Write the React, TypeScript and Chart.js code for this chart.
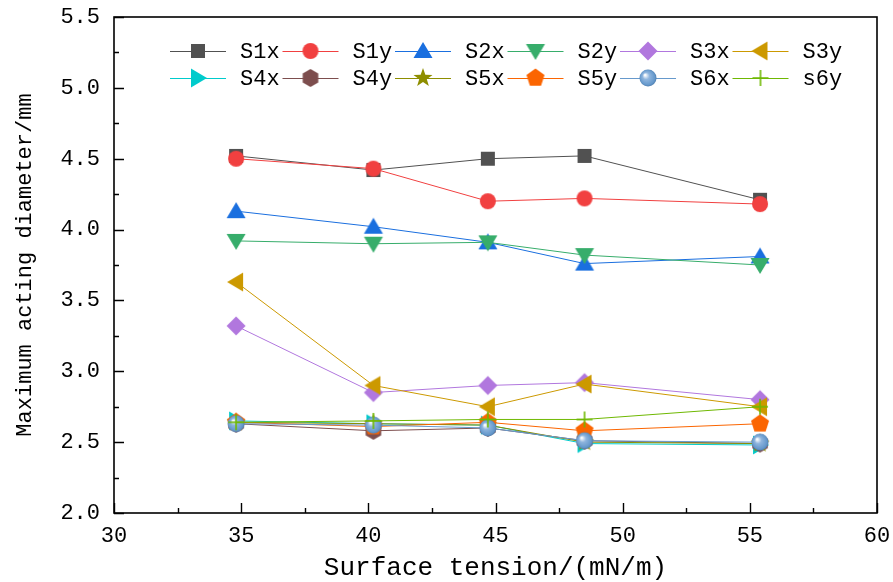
import React, { useEffect, useRef } from "react";
import { Chart, registerables } from "chart.js";

Chart.register(...registerables);

// ---------- data ----------
const surfaceTension = [34.8, 40.2, 44.7, 48.5, 55.4];
const seriesNames = ["S1x", "S1y", "S2x", "S2y", "S3x", "S3y", "S4x", "S4y", "S5x", "S5y", "S6x", "s6y"];
const S1x = [4.52, 4.42, 4.5, 4.52, 4.21];
const S1y = [4.5, 4.43, 4.2, 4.22, 4.18];
const S2x = [4.13, 4.02, 3.91, 3.76, 3.81];
const S2y = [3.92, 3.9, 3.91, 3.82, 3.75];
const S3x = [3.32, 2.85, 2.9, 2.92, 2.8];
const S3y = [3.63, 2.9, 2.75, 2.91, 2.75];
const S4x = [2.65, 2.63, 2.62, 2.49, 2.48];
const S4y = [2.63, 2.58, 2.6, 2.51, 2.49];
const S5x = [2.64, 2.63, 2.62, 2.5, 2.49];
const S5y = [2.64, 2.61, 2.64, 2.58, 2.63];
const S6x = [2.63, 2.62, 2.6, 2.51, 2.5];
const s6y = [2.64, 2.65, 2.66, 2.66, 2.75];
const seriesValues = [S1x, S1y, S2x, S2y, S3x, S3y, S4x, S4y, S5x, S5y, S6x, s6y];
const seriesColors = [
  "#515151", "#F14040", "#1A6FDF", "#37AD6B", "#B177DE", "#CC9900",
  "#00CBCC", "#7D4E4E", "#8E8E00", "#FB6501", "#6699CC", "#6FB802",
];
const seriesShapes = [
  "square", "circle", "triUp", "triDown", "diamond", "triLeft",
  "triRight", "hexagon", "star", "pentagon", "sphere", "plus",
];
const xTitle = "Surface tension/(mN/m)";
const yTitle = "Maximum acting diameter/mm";
const X_MIN = 30, X_MAX = 60, X_STEP = 5;
const Y_MIN = 2, Y_MAX = 5.5, Y_STEP = 0.5;

const FONT = "'Liberation Mono', 'DejaVu Sans Mono', monospace";

function makeMarker(shape: string, color: string): HTMLCanvasElement {
  const S = 22;
  const c = document.createElement("canvas");
  c.width = S;
  c.height = S;
  const ctx = c.getContext("2d")!;
  const cx = S / 2, cy = S / 2;
  ctx.fillStyle = color;
  ctx.strokeStyle = color;
  const poly = (pts: number[][]) => {
    ctx.beginPath();
    pts.forEach(([px, py], i) => (i ? ctx.lineTo(cx + px, cy + py) : ctx.moveTo(cx + px, cy + py)));
    ctx.closePath();
    ctx.fill();
  };
  const regular = (n: number, r: number, start: number) => {
    const pts: number[][] = [];
    for (let k = 0; k < n; k++) {
      const a = start + (k * 2 * Math.PI) / n;
      pts.push([r * Math.cos(a), r * Math.sin(a)]);
    }
    poly(pts);
  };
  switch (shape) {
    case "square":
      ctx.fillRect(cx - 7, cy - 7, 14, 14);
      break;
    case "circle":
      ctx.beginPath();
      ctx.arc(cx, cy, 8, 0, Math.PI * 2);
      ctx.fill();
      break;
    case "triUp":
      poly([[0, -9], [9.5, 7], [-9.5, 7]]);
      break;
    case "triDown":
      poly([[0, 9], [9.5, -7], [-9.5, -7]]);
      break;
    case "triLeft":
      poly([[-9, 0], [7, -9.5], [7, 9.5]]);
      break;
    case "triRight":
      poly([[9, 0], [-7, -9.5], [-7, 9.5]]);
      break;
    case "diamond":
      poly([[0, -9.5], [9.5, 0], [0, 9.5], [-9.5, 0]]);
      break;
    case "hexagon":
      regular(6, 9, -Math.PI / 2);
      break;
    case "pentagon":
      regular(5, 9.5, -Math.PI / 2);
      break;
    case "star": {
      const pts: number[][] = [];
      for (let k = 0; k < 10; k++) {
        const r = k % 2 === 0 ? 10 : 4;
        const a = -Math.PI / 2 + (k * Math.PI) / 5;
        pts.push([r * Math.cos(a), r * Math.sin(a)]);
      }
      poly(pts);
      break;
    }
    case "sphere": {
      const g = ctx.createRadialGradient(cx - 3, cy - 3, 0.5, cx, cy, 9);
      g.addColorStop(0, "#ffffff");
      g.addColorStop(0.35, "#8fb5de");
      g.addColorStop(0.8, color);
      g.addColorStop(1, "#4a78a8");
      ctx.fillStyle = g;
      ctx.beginPath();
      ctx.arc(cx, cy, 8.5, 0, Math.PI * 2);
      ctx.fill();
      break;
    }
    case "plus":
      ctx.lineWidth = 1.6;
      ctx.beginPath();
      ctx.moveTo(cx - 8, cy);
      ctx.lineTo(cx + 8, cy);
      ctx.moveTo(cx, cy - 8);
      ctx.lineTo(cx, cy + 8);
      ctx.stroke();
      break;
  }
  return c;
}

const framePlugin = {
  id: "frameTicks",
  afterDraw(chart: any) {
    const { ctx, chartArea } = chart;
    const { left, right, top, bottom } = chartArea;
    const xs = chart.scales.x;
    const ys = chart.scales.y;
    ctx.save();
    ctx.strokeStyle = "#000";
    ctx.lineWidth = 1.6;
    ctx.strokeRect(left, top, right - left, bottom - top);
    ctx.lineWidth = 1.4;
    ctx.beginPath();
    for (let v = X_MIN; v <= X_MAX + 1e-9; v += X_STEP / 2) {
      const px = Math.round(xs.getPixelForValue(v)) + 0.5;
      const major = Math.abs(v / X_STEP - Math.round(v / X_STEP)) < 1e-6;
      ctx.moveTo(px, bottom);
      ctx.lineTo(px, bottom - (major ? 10 : 5));
    }
    for (let v = Y_MIN; v <= Y_MAX + 1e-9; v += Y_STEP / 2) {
      const py = Math.round(ys.getPixelForValue(v)) + 0.5;
      const major = Math.abs(v / Y_STEP - Math.round(v / Y_STEP)) < 1e-6;
      ctx.moveTo(left, py);
      ctx.lineTo(left + (major ? 10 : 5), py);
    }
    ctx.stroke();
    ctx.restore();
  },
};

const legendPlugin = {
  id: "lineMarkerLegend",
  afterDraw(chart: any) {
    const { ctx } = chart;
    const datasets = chart.data.datasets;
    ctx.save();
    ctx.font = `22px ${FONT}`;
    ctx.fillStyle = "#000";
    ctx.textBaseline = "middle";
    ctx.textAlign = "left";
    datasets.forEach((ds: any, i: number) => {
      const row = Math.floor(i / 6);
      const col = i % 6;
      const x0 = 170 + col * 112.5;
      const y = row === 0 ? 51 : 78;
      ctx.strokeStyle = ds.borderColor;
      ctx.lineWidth = 1;
      ctx.beginPath();
      ctx.moveTo(x0, y + 0.5);
      ctx.lineTo(x0 + 56, y + 0.5);
      ctx.stroke();
      const m = ds.pointStyle as HTMLCanvasElement;
      ctx.drawImage(m, x0 + 28 - m.width / 2, y - m.height / 2);
      ctx.fillText(ds.label, x0 + 70, y + 1);
    });
    ctx.restore();
  },
};

export default function App() {
  const ref = useRef<HTMLCanvasElement | null>(null);
  useEffect(() => {
    if (!ref.current) return;
    const datasets = seriesNames.map((name, i) => ({
      label: name,
      data: surfaceTension.map((x, k) => ({ x, y: seriesValues[i][k] })),
      borderColor: seriesColors[i],
      backgroundColor: seriesColors[i],
      borderWidth: 1,
      pointStyle: makeMarker(seriesShapes[i], seriesColors[i]),
      pointRadius: 8,
      tension: 0,
      order: -i,
    }));
    const chart = new Chart(ref.current, {
      type: "line",
      data: { datasets },
      plugins: [framePlugin, legendPlugin],
      options: {
        responsive: false,
        devicePixelRatio: 1,
        animation: false,
        layout: { padding: { top: 17, right: 16, left: 0, bottom: 0 } },
        plugins: { legend: { display: false }, tooltip: { enabled: false } },
        scales: {
          x: {
            type: "linear",
            min: X_MIN,
            max: X_MAX,
            afterFit: (s: any) => {
              s.height = 69;
              s.paddingLeft = 0;
              s.paddingRight = 0;
            },
            ticks: { stepSize: X_STEP, color: "#000", font: { family: FONT, size: 22 }, padding: 10 },
            grid: { display: false, drawTicks: false },
            border: { display: false },
            title: {
              display: true,
              text: xTitle,
              color: "#000",
              font: { family: FONT, size: 26 },
              padding: { top: 0, bottom: -2 },
            },
          },
          y: {
            type: "linear",
            min: Y_MIN,
            max: Y_MAX,
            afterFit: (s: any) => {
              s.width = 114;
              s.paddingTop = 0;
              s.paddingBottom = 0;
            },
            ticks: {
              stepSize: Y_STEP,
              color: "#000",
              font: { family: FONT, size: 22 },
              padding: 14,
              callback: (v: any) => Number(v).toFixed(1),
            },
            grid: { display: false, drawTicks: false },
            border: { display: false },
            title: {
              display: true,
              text: yTitle,
              color: "#000",
              font: { family: FONT, size: 22 },
              padding: { top: 12, bottom: 0 },
            },
          },
        },
      },
    });
    return () => chart.destroy();
  }, []);
  return (
    <div style={{ position: "fixed", left: 0, top: 0, width: 893, height: 582, background: "#fff" }}>
      <canvas ref={ref} width={893} height={582} />
    </div>
  );
}
